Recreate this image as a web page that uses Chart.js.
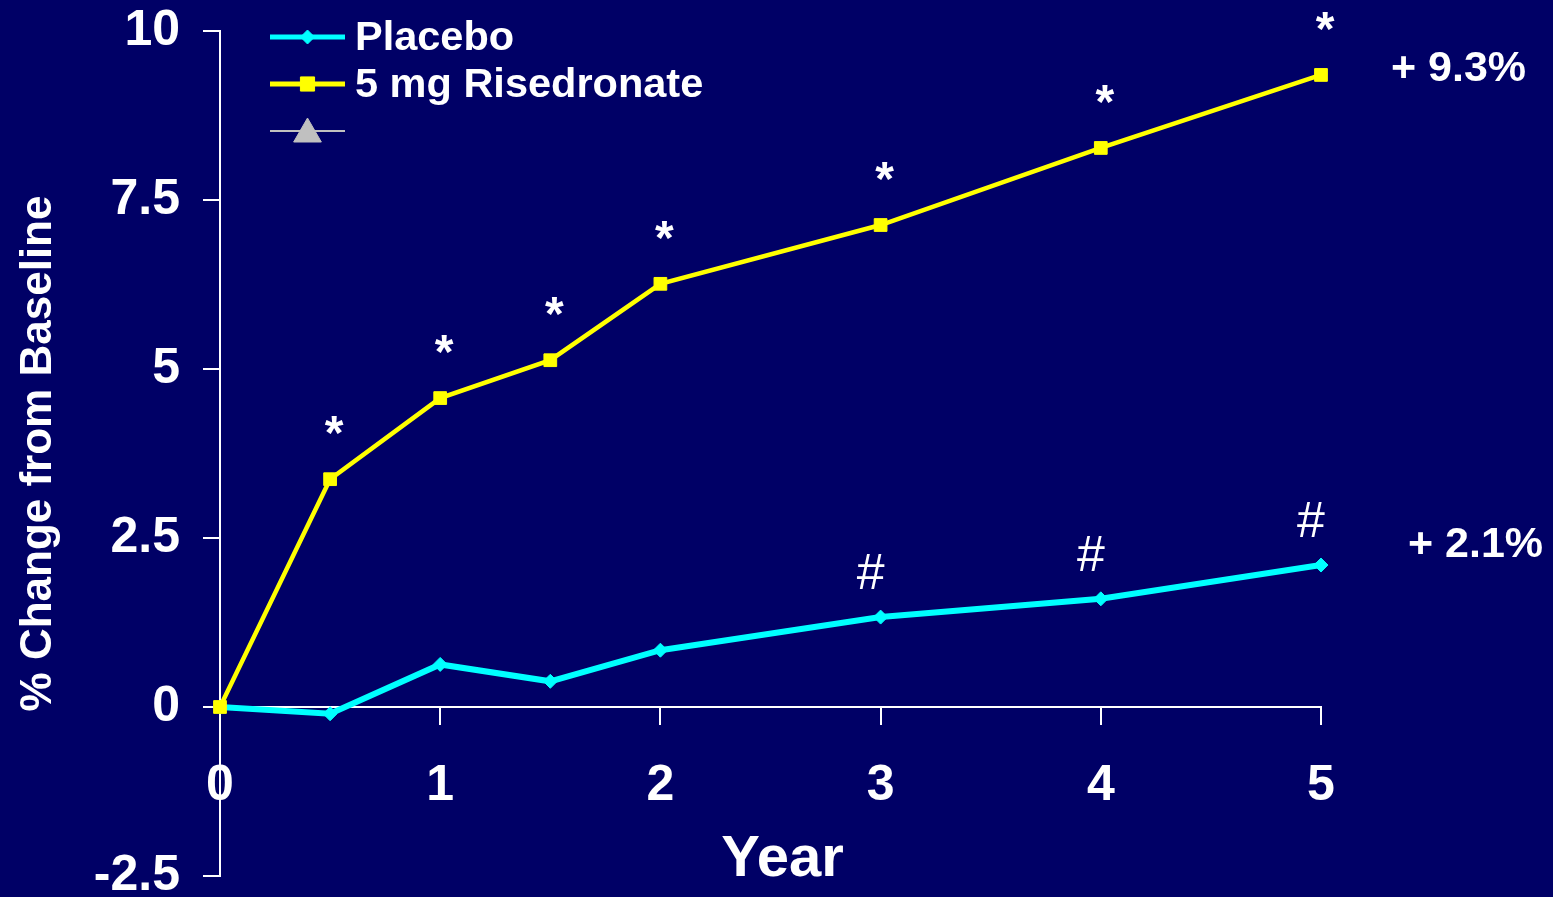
<!DOCTYPE html>
<html>
<head>
<meta charset="utf-8">
<title>% Change from Baseline</title>
<script src="https://cdn.jsdelivr.net/npm/chart.js@4.4.1/dist/chart.umd.min.js"></script>
<style>
  html, body { margin: 0; padding: 0; background: #000066; overflow: hidden; }
  #grafica { display: block; }
</style>
</head>
<body>
<canvas id="grafica" width="1553" height="897"></canvas>
<script>
// --- DATOS ---
const anios = [0, 0.5, 1, 1.5, 2, 3, 4, 5];
const placebo = [0, -0.1, 0.63, 0.38, 0.84, 1.33, 1.6, 2.1];
const risedronato = [0, 3.37, 4.57, 5.13, 6.26, 7.13, 8.27, 9.35];
const nombresSeries = ['Placebo', '5 mg Risedronate', ''];
const ticksY = [-2.5, 0, 2.5, 5, 7.5, 10];
const ticksX = [0, 1, 2, 3, 4, 5];
const aniosAsterisco = [0.5, 1, 1.5, 2, 3, 4, 5];
const aniosAlmohadilla = [3, 4, 5];
const etiquetasFinales = ['+ 2.1%', '+ 9.3%'];
const tituloX = 'Year';
const tituloY = '% Change from Baseline';

const FUENTE = '"Liberation Sans", Arial, Helvetica, sans-serif';
Chart.defaults.font.family = FUENTE;
Chart.defaults.color = '#ffffff';

function puntos(valores) {
    return anios.map((a, i) => ({ x: a, y: valores[i] }));
}

// fondo azul del lienzo
const pluginFondo = {
    id: 'fondo',
    beforeDraw(chart) {
        const ctx = chart.ctx;
        ctx.save();
        ctx.fillStyle = '#000066';
        ctx.fillRect(0, 0, chart.width, chart.height);
        ctx.restore();
    }
};

// leyenda dibujada dentro del área
const pluginLeyenda = {
    id: 'leyendaInterna',
    afterDraw(chart) {
        const ctx = chart.ctx;
        const area = chart.chartArea;
        const x0 = area.left + 50;
        const x1 = area.left + 125;
        chart.data.datasets.forEach((ds, i) => {
            const yy = area.top + 6 + i * 47;
            ctx.save();
            ctx.strokeStyle = ds.borderColor;
            ctx.lineWidth = ds.legendLine;
            ctx.beginPath();
            ctx.moveTo(x0, yy);
            ctx.lineTo(x1, yy);
            ctx.stroke();
            ctx.fillStyle = ds.pointBackgroundColor;
            ctx.strokeStyle = ds.borderColor;
            ctx.lineWidth = 1;
            Chart.helpers.drawPoint(ctx, {
                pointStyle: ds.pointStyle,
                radius: ds.legendRadius,
                rotation: 0,
                borderWidth: 1
            }, (x0 + x1) / 2, yy + (ds.pointStyle === 'triangle' ? 3 : 0));
            if (ds.label) {
                ctx.fillStyle = '#ffffff';
                ctx.font = 'bold 41.5px ' + FUENTE;
                ctx.textAlign = 'left';
                ctx.textBaseline = 'middle';
                ctx.fillText(ds.label, x1 + 10, yy + 2);
            }
            ctx.restore();
        });
    }
};

// asteriscos, almohadillas, etiquetas finales y título del eje X
const pluginAnotaciones = {
    id: 'anotaciones',
    afterDatasetsDraw(chart) {
        const { ctx, scales: { x, y }, chartArea } = chart;
        ctx.save();
        ctx.fillStyle = '#ffffff';
        ctx.textAlign = 'center';
        ctx.textBaseline = 'alphabetic';

        ctx.font = 'bold 48px ' + FUENTE;
        aniosAsterisco.forEach(a => {
            const i = anios.indexOf(a);
            ctx.fillText('*', x.getPixelForValue(a) + 4, y.getPixelForValue(risedronato[i]) - 30);
        });

        ctx.font = '50px ' + FUENTE;
        aniosAlmohadilla.forEach(a => {
            const i = anios.indexOf(a);
            ctx.fillText('#', x.getPixelForValue(a) - 10, y.getPixelForValue(placebo[i]) - 28);
        });

        ctx.font = 'bold 43px ' + FUENTE;
        ctx.textAlign = 'left';
        ctx.textBaseline = 'middle';
        const ultimo = anios.length - 1;
        const xf = x.getPixelForValue(anios[ultimo]);
        ctx.fillText(etiquetasFinales[0], xf + 87, y.getPixelForValue(placebo[ultimo]) - 20);
        ctx.fillText(etiquetasFinales[1], xf + 70, y.getPixelForValue(risedronato[ultimo]) - 6);

        ctx.font = 'bold 58px ' + FUENTE;
        ctx.textAlign = 'center';
        ctx.fillText(tituloX, (chartArea.left + chartArea.right) / 2 + 12, y.getPixelForValue(0) + 153);
        ctx.restore();
    }
};

const ctx = document.getElementById('grafica').getContext('2d');
const miGrafica = new Chart(ctx, {
    type: 'line',
    data: {
        datasets: [
            {
                label: nombresSeries[0], data: puntos(placebo),
                borderColor: '#00FFFF', backgroundColor: '#00FFFF', pointBackgroundColor: '#00FFFF',
                borderWidth: 6, pointStyle: 'rectRot', pointRadius: 7, pointBorderWidth: 1,
                legendLine: 5, legendRadius: 7, order: 1, clip: false, tension: 0
            },
            {
                label: nombresSeries[1], data: puntos(risedronato),
                borderColor: '#FFFF00', backgroundColor: '#FFFF00', pointBackgroundColor: '#FFFF00',
                borderWidth: 4.5, pointStyle: 'rect', pointRadius: 9, pointBorderWidth: 1,
                legendLine: 5, legendRadius: 10, order: 0, clip: false, tension: 0
            },
            {
                label: nombresSeries[2], data: [],
                borderColor: '#C0C0C0', backgroundColor: '#C0C0C0', pointBackgroundColor: '#C0C0C0',
                borderWidth: 2, pointStyle: 'triangle', pointRadius: 16,
                legendLine: 2, legendRadius: 16, order: 2
            }
        ]
    },
    options: {
        responsive: false,
        animation: false,
        devicePixelRatio: 1,
        layout: { padding: { top: 31, bottom: 21, left: 0, right: 232 } },
        plugins: { legend: { display: false }, tooltip: { enabled: false } },
        scales: {
            x: {
                type: 'linear', min: 0, max: 5,
                position: { y: 0 },
                afterBuildTicks: s => { s.ticks = ticksX.map(v => ({ value: v })); },
                afterFit: s => { s.paddingLeft = 0; s.paddingRight = 0; },
                grid: { drawOnChartArea: false, drawTicks: true, tickLength: 17, color: '#ffffff', lineWidth: 2 },
                border: { display: true, color: '#ffffff', width: 2 },
                ticks: {
                    color: '#ffffff', padding: 37, maxRotation: 0, autoSkip: false,
                    font: { size: 50, weight: 'bold', lineHeight: 1 }
                }
            },
            y: {
                type: 'linear', min: -2.5, max: 10, position: 'left',
                afterBuildTicks: s => { s.ticks = ticksY.map(v => ({ value: v })); },
                afterFit: s => { s.width = 220; s.paddingTop = 0; s.paddingBottom = 0; },
                grid: { drawOnChartArea: false, drawTicks: true, tickLength: 17, color: '#ffffff', lineWidth: 2 },
                border: { display: true, color: '#ffffff', width: 2 },
                ticks: {
                    color: '#ffffff', padding: 23,
                    font: { size: 50, weight: 'bold', lineHeight: 1.2 }
                },
                title: {
                    display: true, text: tituloY, color: '#ffffff',
                    font: { size: 44, weight: 'bold', lineHeight: 1.2 },
                    padding: { top: 12, bottom: 0 }
                }
            }
        }
    },
    plugins: [pluginFondo, pluginLeyenda, pluginAnotaciones]
});
</script>
</body>
</html>
